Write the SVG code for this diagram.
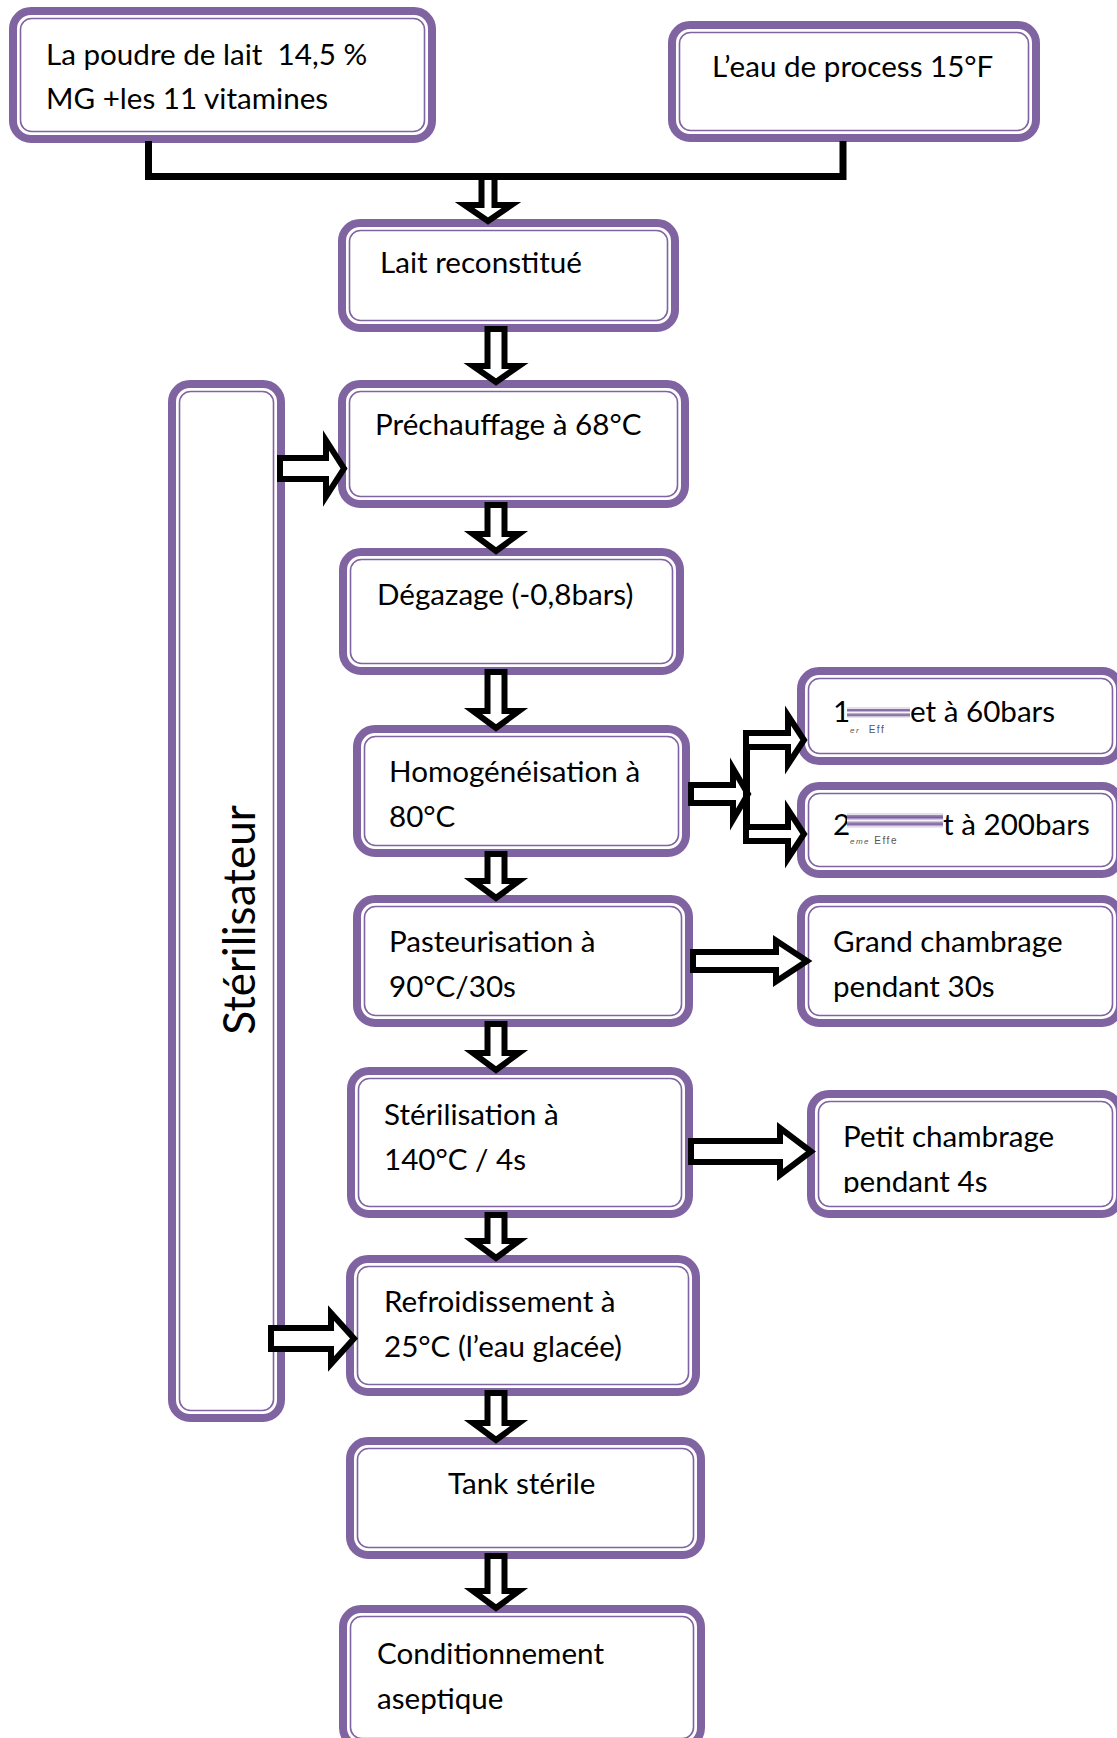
<svg xmlns="http://www.w3.org/2000/svg" width="1117" height="1738" viewBox="0 0 1117 1738">
<style>
.ob{fill:#fff;stroke:#8064A2;stroke-width:8}
.ib{fill:none;stroke:#8064A2;stroke-width:1.6}
.t{font-family:Lato,"Liberation Sans",sans-serif;font-size:29.6px;fill:#000;white-space:pre}
.sm{font-family:"Liberation Sans",sans-serif;font-size:10px;fill:#555;letter-spacing:1.5px;white-space:pre}
.smi{font-style:italic;font-size:8px}
.ar{fill:#fff;stroke:#000;stroke-width:6;stroke-linejoin:miter;stroke-miterlimit:10}
.ln{fill:none;stroke:#000;stroke-width:7}
</style>
<defs>
<linearGradient id="stripe" x1="0" y1="0" x2="0" y2="1">
<stop offset="0" stop-color="#e6e0ee"/><stop offset="0.15" stop-color="#e6e0ee"/>
<stop offset="0.15" stop-color="#9c86b8"/><stop offset="0.3" stop-color="#7a5f9c"/>
<stop offset="0.42" stop-color="#c9bcdb"/><stop offset="0.52" stop-color="#ffffff"/>
<stop offset="0.6" stop-color="#b3a2c7"/><stop offset="0.75" stop-color="#7a5f9c"/>
<stop offset="0.88" stop-color="#d9d0e6"/><stop offset="1" stop-color="#f4f0f8"/>
</linearGradient>
<clipPath id="clipPetit"><rect x="820" y="1100" width="300" height="93"/></clipPath>
</defs>

<g id="n-poudre">
<rect class="ob" x="13" y="11" width="419" height="128" rx="18"/>
<rect class="ib" x="20.5" y="18.5" width="404" height="113" rx="11"/>
<text class="t" x="46" y="65">La poudre de lait  14,5 %</text>
<text class="t" x="46" y="109">MG +les 11 vitamines</text>
</g>
<g id="n-eau">
<rect class="ob" x="672" y="25" width="364" height="113" rx="18"/>
<rect class="ib" x="679.5" y="32.5" width="349" height="98" rx="11"/>
<text class="t" x="712" y="77">L’eau de process 15°F</text>
</g>
<g id="n-lait">
<rect class="ob" x="342" y="223" width="333" height="105" rx="18"/>
<rect class="ib" x="349.5" y="230.5" width="318" height="90" rx="11"/>
<text class="t" x="380" y="273">Lait reconstitué</text>
</g>
<g id="n-sterilisateur">
<rect class="ob" x="172" y="384" width="109" height="1034" rx="18"/>
<rect class="ib" x="179.5" y="391.5" width="94" height="1019" rx="11"/>
<text class="t" x="255" y="920" text-anchor="middle" style="font-size:44px" transform="rotate(-90 255 920)">Stérilisateur</text>
</g>
<g id="n-prechauffage">
<rect class="ob" x="342" y="384" width="343" height="120" rx="18"/>
<rect class="ib" x="349.5" y="391.5" width="328" height="105" rx="11"/>
<text class="t" x="375" y="435">Préchauffage à 68°C</text>
</g>
<g id="n-degazage">
<rect class="ob" x="343" y="552" width="337" height="119" rx="18"/>
<rect class="ib" x="350.5" y="559.5" width="322" height="104" rx="11"/>
<text class="t" x="377" y="605">Dégazage (-0,8bars)</text>
</g>
<g id="n-homogeneisation">
<rect class="ob" x="357" y="729" width="329" height="124" rx="18"/>
<rect class="ib" x="364.5" y="736.5" width="314" height="109" rx="11"/>
<text class="t" x="389" y="782">Homogénéisation à</text>
<text class="t" x="389" y="827">80°C</text>
</g>
<g id="n-effet1">
<rect class="ob" x="801" y="671" width="319" height="90" rx="18"/>
<rect class="ib" x="808.5" y="678.5" width="304" height="75" rx="11"/>
<text class="t" x="833" y="722">1</text>
<rect x="847" y="707" width="63" height="11" fill="url(#stripe)"/>
<text class="sm" x="850" y="733"><tspan class="smi">er</tspan>  Eff</text>
<text class="t" x="910" y="722">et à 60bars</text>
</g>
<g id="n-effet2">
<rect class="ob" x="801" y="786" width="319" height="88" rx="18"/>
<rect class="ib" x="808.5" y="793.5" width="304" height="73" rx="11"/>
<text class="t" x="833" y="835">2</text>
<rect x="847" y="813" width="96" height="15" fill="url(#stripe)"/>
<text class="sm" x="850" y="844"><tspan class="smi">eme</tspan> Effe</text>
<text class="t" x="943" y="835">t à 200bars</text>
</g>
<g id="n-pasteurisation">
<rect class="ob" x="357" y="899" width="332" height="124" rx="18"/>
<rect class="ib" x="364.5" y="906.5" width="317" height="109" rx="11"/>
<text class="t" x="389" y="952">Pasteurisation à</text>
<text class="t" x="389" y="997">90°C/30s</text>
</g>
<g id="n-grand">
<rect class="ob" x="801" y="899" width="319" height="124" rx="18"/>
<rect class="ib" x="808.5" y="906.5" width="304" height="109" rx="11"/>
<text class="t" x="833" y="952">Grand chambrage</text>
<text class="t" x="833" y="997">pendant 30s</text>
</g>
<g id="n-sterilisation">
<rect class="ob" x="351" y="1071" width="338" height="143" rx="18"/>
<rect class="ib" x="358.5" y="1078.5" width="323" height="128" rx="11"/>
<text class="t" x="384" y="1125">Stérilisation à</text>
<text class="t" x="384" y="1170">140°C / 4s</text>
</g>
<g id="n-petit">
<rect class="ob" x="811" y="1094" width="309" height="120" rx="18"/>
<rect class="ib" x="818.5" y="1101.5" width="294" height="105" rx="11"/>
<text class="t" x="843" y="1147">Petit chambrage</text>
<text class="t" x="843" y="1192" clip-path="url(#clipPetit)">pendant 4s</text>
</g>
<g id="n-refroidissement">
<rect class="ob" x="350" y="1259" width="346" height="133" rx="18"/>
<rect class="ib" x="357.5" y="1266.5" width="331" height="118" rx="11"/>
<text class="t" x="384" y="1312">Refroidissement à</text>
<text class="t" x="384" y="1357">25°C (l’eau glacée)</text>
</g>
<g id="n-tank">
<rect class="ob" x="350" y="1441" width="351" height="114" rx="18"/>
<rect class="ib" x="357.5" y="1448.5" width="336" height="99" rx="11"/>
<text class="t" x="448" y="1494">Tank stérile</text>
</g>
<g id="n-conditionnement">
<rect class="ob" x="343" y="1609" width="358" height="137" rx="18"/>
<rect class="ib" x="350.5" y="1616.5" width="343" height="122" rx="11"/>
<text class="t" x="377" y="1664">Conditionnement</text>
<text class="t" x="377" y="1709">aseptique</text>
</g>

<g id="connectors">
<path class="ln" d="M148.5 141 V176.5 H843 V141"/>
<polygon class="ar" points="481.5,177 494.5,177 494.5,205 511.5,205 488,221 464.5,205 481.5,205"/>
<polygon class="ar" points="487.5,329 504.5,329 504.5,366 519,366 496,382 473,366 487.5,366"/>
<polygon class="ar" points="487.5,505 504.5,505 504.5,534 519,534 496,551 473,534 487.5,534"/>
<polygon class="ar" points="487.5,672 504.5,672 504.5,711 519,711 496,728 473,711 487.5,711"/>
<polygon class="ar" points="487.5,854 504.5,854 504.5,881 519,881 496,898 473,881 487.5,881"/>
<polygon class="ar" points="487.5,1024 504.5,1024 504.5,1053 519,1053 496,1070 473,1053 487.5,1053"/>
<polygon class="ar" points="487.5,1215 504.5,1215 504.5,1241 519,1241 496,1258 473,1241 487.5,1241"/>
<polygon class="ar" points="487.5,1393 504.5,1393 504.5,1423 519,1423 496,1440 473,1423 487.5,1423"/>
<polygon class="ar" points="487.5,1556 504.5,1556 504.5,1591 519,1591 496,1608 473,1591 487.5,1591"/>
<polygon class="ar" points="280,458 326,458 326,440.5 344,468.5 326,496.5 326,479 280,479"/>
<polygon class="ar" points="271,1328 331,1328 331,1313 354,1338.5 331,1364 331,1349 271,1349"/>
<polygon class="ar" points="693,952 776,952 776,940.5 807,961 776,981.5 776,970 693,970"/>
<polygon class="ar" points="691,1141 780,1141 780,1128 811,1151.5 780,1175 780,1162 691,1162"/>
<polygon class="ar" points="691,785 733,785 733,768.5 748,794 733,819.5 733,803 691,803"/>
<rect x="743" y="730" width="7" height="114" fill="#000"/>
<polygon class="ar" points="746,733 788,733 788,715.5 804,740 788,764.5 788,747 746,747"/>
<polygon class="ar" points="746,827 788,827 788,809.5 804,834 788,858.5 788,841 746,841"/>
</g>
</svg>
